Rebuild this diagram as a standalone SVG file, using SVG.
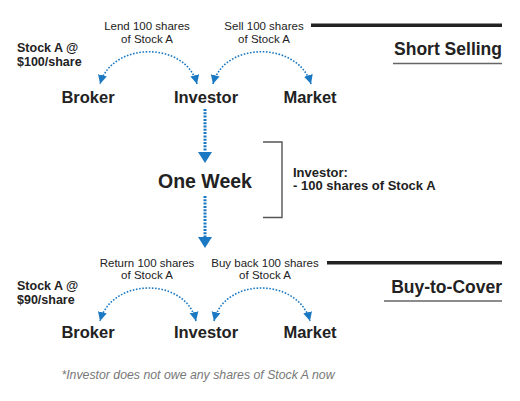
<svg xmlns="http://www.w3.org/2000/svg" width="520" height="401" viewBox="0 0 520 401">
<defs>
<style>
text{font-family:"Liberation Sans",Arial,sans-serif;fill:#222}
.lbl{font-size:11.5px;text-anchor:middle}
.node{font-size:16.5px;font-weight:bold;text-anchor:middle}
.price{font-size:12.5px;font-weight:bold}
.head{font-size:17.5px;font-weight:bold;text-anchor:end}
.arc{fill:none;stroke:#1b78c2;stroke-width:1.6;stroke-dasharray:1.6 1.6;marker-start:url(#ah);marker-end:url(#ah)}
.vline{stroke:#1b78c2;stroke-width:3;stroke-dasharray:2 1.3}
.bar{stroke:#222;stroke-width:3.6}
.ul{stroke:#666;stroke-width:1.6}
.vhead{fill:#1b78c2}
</style>
<marker id="ah" viewBox="0 0 10 10" refX="10" refY="5" markerWidth="9" markerHeight="11" markerUnits="userSpaceOnUse" orient="auto-start-reverse">
<path d="M0,0 L10,5 L0,10 z" fill="#1b78c2"/>
</marker>
</defs>

<g id="connectors">
<path class="arc" d="M197,84 C186,41 112,41 100,84"/>
<path class="arc" d="M213,84 C224,41 298,41 311,84"/>
<line class="vline" x1="205" y1="109" x2="205" y2="153"/>
<polygon class="vhead" points="198,152 212,152 205,163"/>
<line class="vline" x1="205" y1="196" x2="205" y2="238"/>
<polygon class="vhead" points="198,237 212,237 205,248"/>
<path class="arc" d="M196,321 C186,277 112,277 100,321"/>
<path class="arc" d="M214,321 C224,277 298,277 310,321"/>
</g>

<g id="short-selling-header">
<line class="bar" x1="311" y1="25.3" x2="502" y2="25.3"/>
<text class="head" x="502" y="55">Short Selling</text>
<line class="ul" x1="393" y1="63.5" x2="502" y2="63.5"/>
</g>

<g id="label-lend">
<text class="lbl" x="147" y="30">Lend 100 shares</text>
<text class="lbl" x="147" y="43">of Stock A</text>
</g>
<g id="label-sell">
<text class="lbl" x="264" y="30">Sell 100 shares</text>
<text class="lbl" x="264" y="43">of Stock A</text>
</g>
<g id="price-top">
<text class="price" x="17" y="51.5">Stock A @</text>
<text class="price" x="17" y="65.5">$100/share</text>
</g>
<g id="broker-top"><text class="node" x="88" y="103">Broker</text></g>
<g id="investor-top"><text class="node" x="206" y="103">Investor</text></g>
<g id="market-top"><text class="node" x="310" y="103">Market</text></g>

<g id="one-week">
<text x="205" y="188" style="font-size:19.5px;font-weight:bold;text-anchor:middle">One Week</text>
</g>
<g id="bracket-note">
<path d="M263,142 H282 V217.5 H263" fill="none" stroke="#555" stroke-width="1.4"/>
<text x="293" y="176.5" style="font-size:13px;font-weight:bold">Investor:</text>
<text x="293" y="190" style="font-size:13px;font-weight:bold">- 100 shares of Stock A</text>
</g>

<g id="buy-to-cover-header">
<line class="bar" x1="327" y1="262.7" x2="502" y2="262.7"/>
<text class="head" x="502" y="293">Buy-to-Cover</text>
<line class="ul" x1="384" y1="301" x2="502" y2="301"/>
</g>
<g id="label-return">
<text class="lbl" x="147" y="267">Return 100 shares</text>
<text class="lbl" x="147" y="279">of Stock A</text>
</g>
<g id="label-buyback">
<text class="lbl" x="265" y="267">Buy back 100 shares</text>
<text class="lbl" x="265" y="279">of Stock A</text>
</g>
<g id="price-bottom">
<text class="price" x="17" y="289.5">Stock A @</text>
<text class="price" x="17" y="303.5">$90/share</text>
</g>
<g id="broker-bottom"><text class="node" x="88" y="338">Broker</text></g>
<g id="investor-bottom"><text class="node" x="206" y="338">Investor</text></g>
<g id="market-bottom"><text class="node" x="310" y="338">Market</text></g>

<g id="footnote">
<text x="198" y="379" style="font-size:12.3px;font-style:italic;fill:#777;text-anchor:middle">*Investor does not owe any shares of Stock A now</text>
</g>
</svg>
